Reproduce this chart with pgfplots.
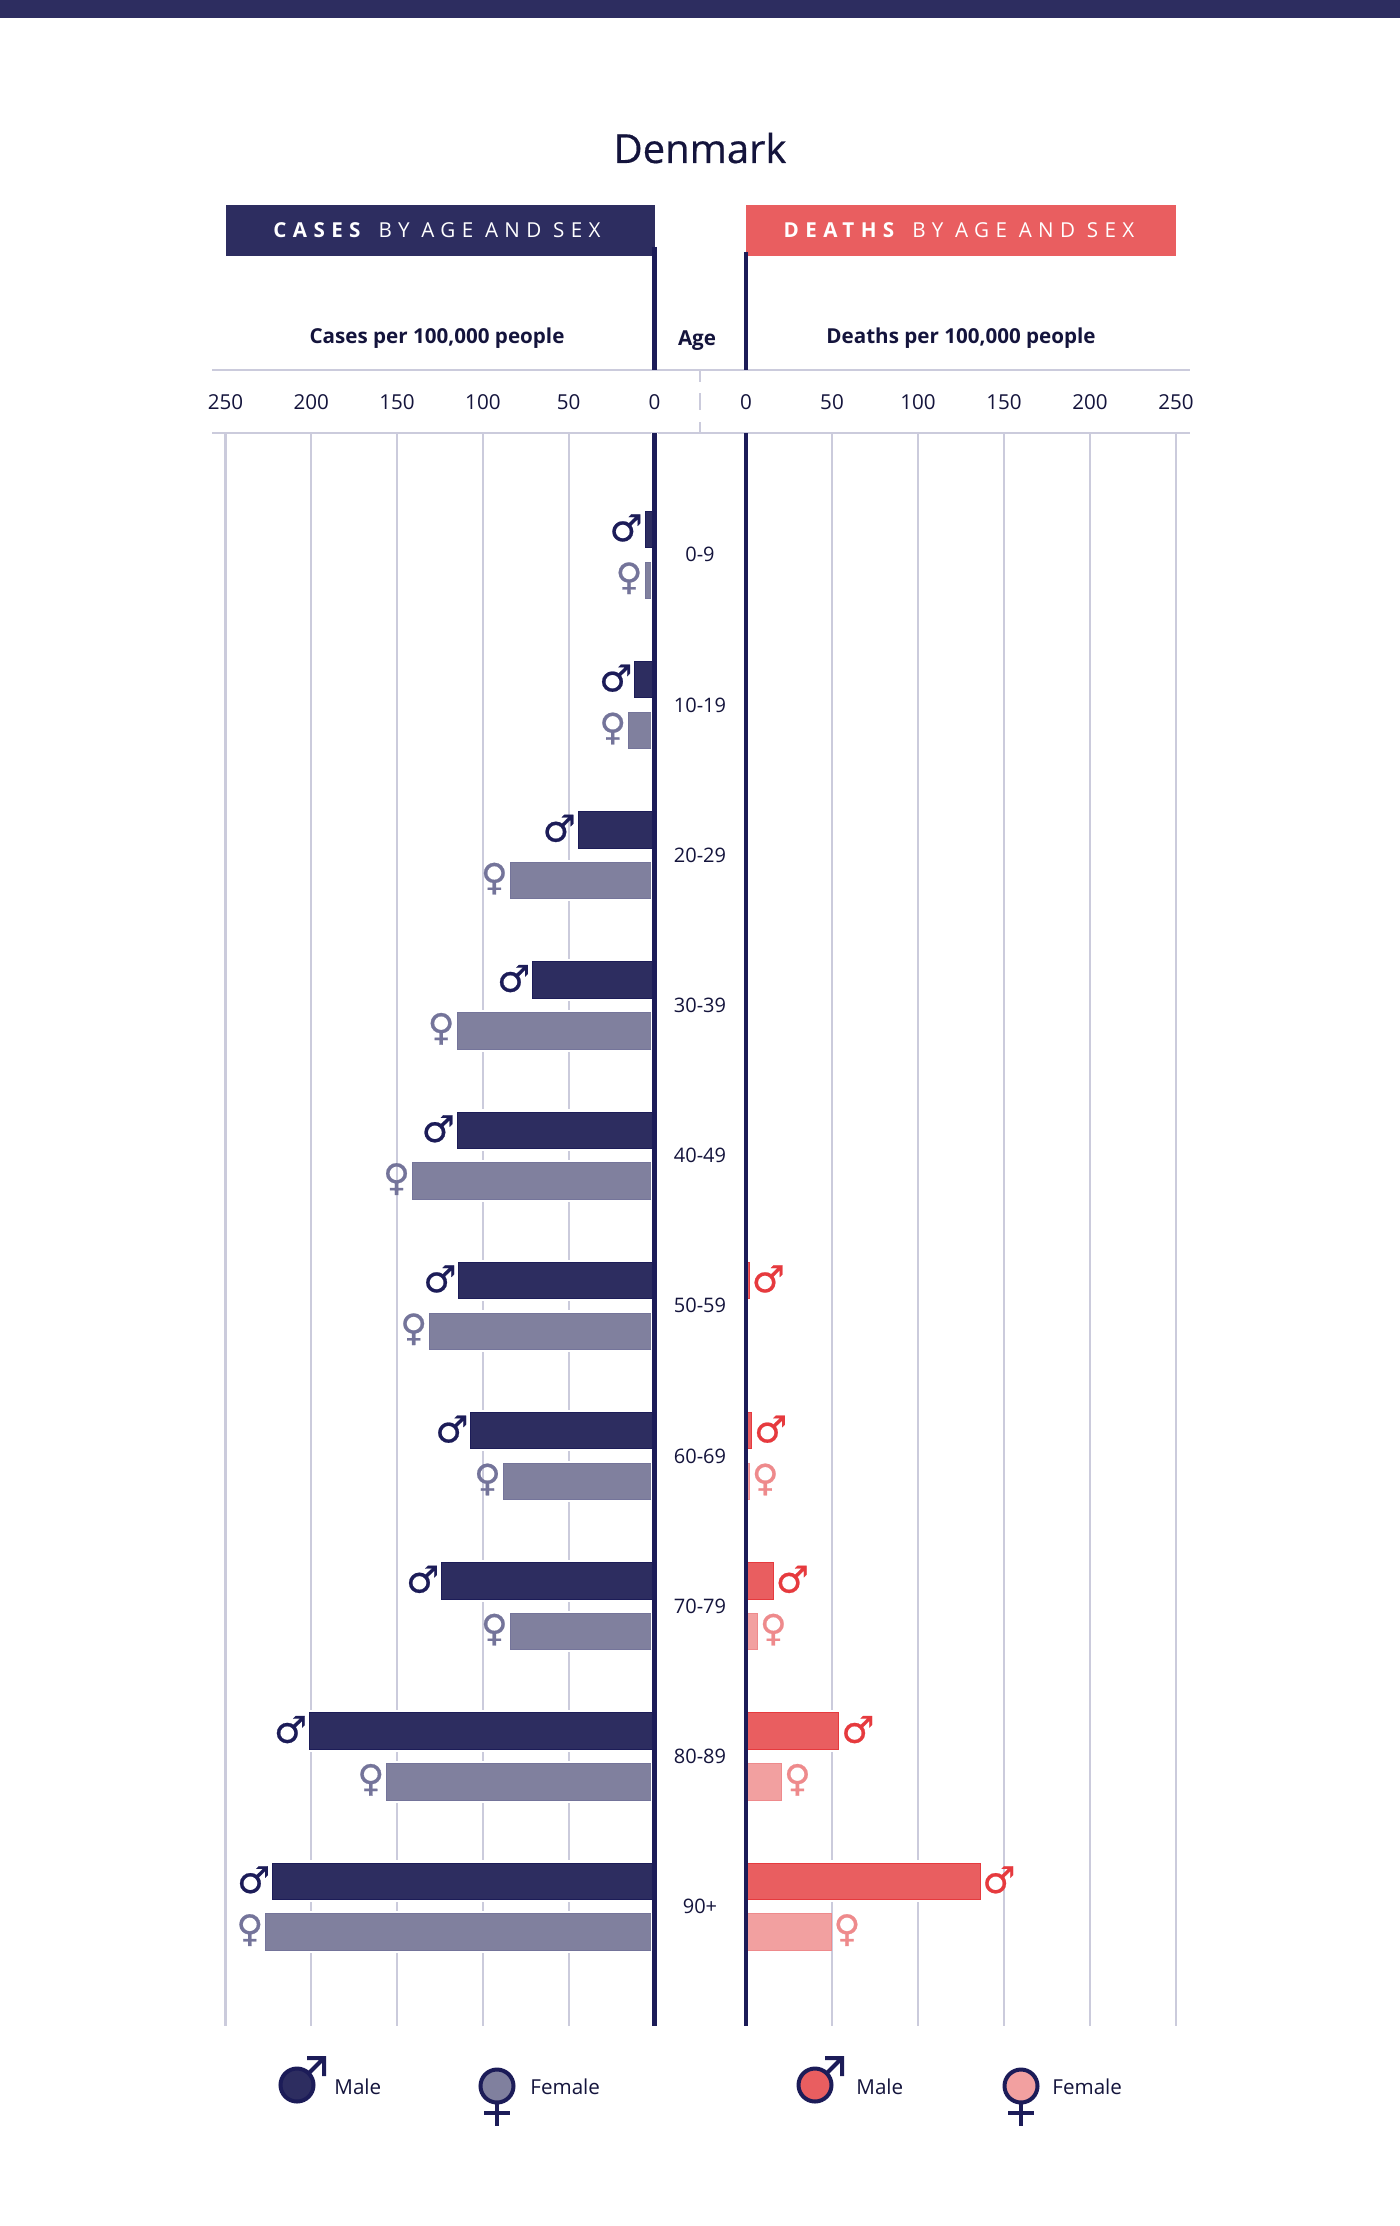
\documentclass[border=0pt]{standalone}
\usepackage{fontspec}
\usepackage{pgfplots}
\usepackage{pgfplotstable}
\pgfplotsset{compat=1.18}
\setmainfont{Open Sans}
\newfontfamily\sym[FakeBold=0.6]{DejaVu Sans}
\definecolor{navy}{HTML}{2D2D60}
\definecolor{lineNavy}{HTML}{1C1C58}
\definecolor{navyF}{HTML}{80809E}
\definecolor{symF}{HTML}{74749A}
\definecolor{redM}{HTML}{E95E60}
\definecolor{redF}{HTML}{F2A0A0}
\definecolor{symRed}{HTML}{E63A3E}
\definecolor{symRedF}{HTML}{EE8A8C}
\definecolor{gridc}{HTML}{CBCBDC}
\definecolor{txt}{HTML}{14143C}

\pgfplotstableread{
g v
0 5.5
1 11.5
2 44.5
3 71
4 115
5 114
6 107
7 124
8 201
9 222.5
}\casesM
\pgfplotstableread{
g v
0 5.5
1 15
2 84
3 115
4 141
5 131
6 88
7 84
8 156
9 226.5
}\casesF
\pgfplotstableread{
g v
5 1.9
6 3.3
7 15.9
8 54
9 136
}\deathsM
\pgfplotstableread{
g v
6 1.9
7 6.6
8 20.6
9 49.4
}\deathsF

\pgfplotsset{
  panel/.style={
    scale only axis, height=796.5pt,
    anchor=north west, clip=false,
    xmin=0, xmax=250, ymin=-0.811, ymax=9.795, y dir=reverse,
    xtick={0,50,100,150,200,250},
    xticklabel pos=upper,
    /pgf/number format/assume math mode=true,
    xticklabel style={anchor=center, yshift=15.5pt, font=\fontsize{10.3}{12}\selectfont, text=txt},
    xmajorgrids, grid style={gridc, line width=1.1pt},
    axis line style={draw=none},
    major tick length=0pt, tick style={draw=none},
  },
  halo/.style={xbar, draw=white, fill=white, line width=0pt, bar width=20.3pt, forget plot},
  barM/.style={xbar, bar width=18.2pt, bar shift=12.7pt},
  barF/.style={xbar, bar width=18.2pt, bar shift=-12.7pt},
  sign/.style n args={4}{
    nodes near coords={#1},
    point meta=x,
    every node near coord/.style={anchor=center, xshift=#2, yshift=#4, text=#3, inner sep=0pt,
       font=\sym\fontsize{18.5}{18.5}\selectfont},
  },
}

\begin{document}
\begin{tikzpicture}[x=0.5pt, y=-0.5pt]
\path[use as bounding box, fill=white] (0,0) rectangle (1400,2226);
\fill[navy] (0,0) rectangle (1400,18);
\node[text=txt, font=\fontsize{20}{24}\selectfont\addfontfeatures{FakeBold=0.5}] at (700,148) {Denmark};
\fill[navy] (225.5,205) rectangle (655,256);
\fill[redM] (746,205) rectangle (1176,256);
\node[text=white, font=\fontsize{10.3}{12}\selectfont\addfontfeatures{LetterSpace=31}] at (437,230.5) {\textbf{CASES} BY AGE AND SEX};
\node[text=white, font=\fontsize{10.3}{12}\selectfont\addfontfeatures{LetterSpace=31}] at (959,230.5) {\textbf{DEATHS} BY AGE AND SEX};
\node[text=txt, font=\fontsize{10.3}{12}\selectfont\bfseries] at (437,338) {Cases per 100,000 people};
\node[text=txt, font=\fontsize{10.3}{12}\selectfont\bfseries] at (961,338) {Deaths per 100,000 people};
\node[text=txt, font=\fontsize{10.3}{12}\selectfont\bfseries] at (697,341) {Age};
\draw[gridc, line width=1.1pt] (212,370) -- (1190,370) (212,433) -- (1190,433);
\draw[gridc, line width=0.8pt] (700,370) -- (700,382) (700,393) -- (700,410) (700,422) -- (700,433);

\begin{axis}[panel, width=214.5pt, at={(112.75pt,-216.5pt)}, x dir=reverse,
    ytick=\empty]
  \addplot[halo, bar shift=12.7pt] table[x=v,y=g] {\casesM};
  \addplot[halo, bar shift=-12.7pt] table[x=v,y=g] {\casesF};
  \addplot[barF, fill=navyF, draw=symF, sign={♀}{-8pt}{symF}{-11.7pt}] table[x=v,y=g] {\casesF};
  \addplot[white, line width=3.2pt, forget plot] coordinates {(0,-0.811) (0,9.795)};
  \addplot[barM, fill=navy, draw=lineNavy, sign={♂}{-9.5pt}{lineNavy}{13.4pt}] table[x=v,y=g] {\casesM};
\end{axis}

\begin{axis}[panel, width=215pt, at={(373pt,-216.5pt)},
    ytick={0,1,2,3,4,5,6,7,8,9},
    yticklabels={0-9,10-19,20-29,30-39,40-49,50-59,60-69,70-79,80-89,90+},
    yticklabel style={anchor=center, xshift=-23pt, font=\fontsize{10}{12}\selectfont, text=txt}]
  \addplot[halo, bar shift=12.7pt] table[x=v,y=g] {\deathsM};
  \addplot[halo, bar shift=-12.7pt] table[x=v,y=g] {\deathsF};
  \addplot[barF, fill=redF, draw=symRedF, sign={♀}{8pt}{symRedF}{-11.7pt}] table[x=v,y=g] {\deathsF};
  \addplot[barM, fill=redM, draw=symRed, sign={♂}{9.5pt}{symRed}{13.4pt}] table[x=v,y=g] {\deathsM};
\end{axis}

\draw[lineNavy, line width=2.1pt] (654.5,247) -- (654.5,370) (654.5,433) -- (654.5,2026);
\draw[lineNavy, line width=2.1pt] (746,252) -- (746,370) (746,433) -- (746,2026);

% legend
\def\legM#1#2#3{%
  \draw[lineNavy, line width=2pt] (#1+12,#2-12) -- (#1+27,#2-27) (#1+10,#2-27) -- (#1+27,#2-27) -- (#1+27,#2-9);
  \fill[#3, draw=lineNavy, line width=2pt] (#1,#2) circle (16.5);
}
\def\legF#1#2#3{%
  \draw[lineNavy, line width=2pt] (#1,#2+16) -- (#1,#2+40) (#1-13,#2+27) -- (#1+13,#2+27);
  \fill[#3, draw=lineNavy, line width=2pt] (#1,#2) circle (16.5);
}
\legM{297}{2085}{navy}
\legF{497}{2086}{navyF}
\legM{815}{2085}{redM}
\legF{1021}{2086}{redF}
\foreach \px/\lab in {334/Male,530/Female,856/Male,1052/Female}
  \node[anchor=west, inner sep=0pt, text=txt, font=\fontsize{10.3}{12}\selectfont] at (\px,2087) {\lab};
\end{tikzpicture}
\end{document}
